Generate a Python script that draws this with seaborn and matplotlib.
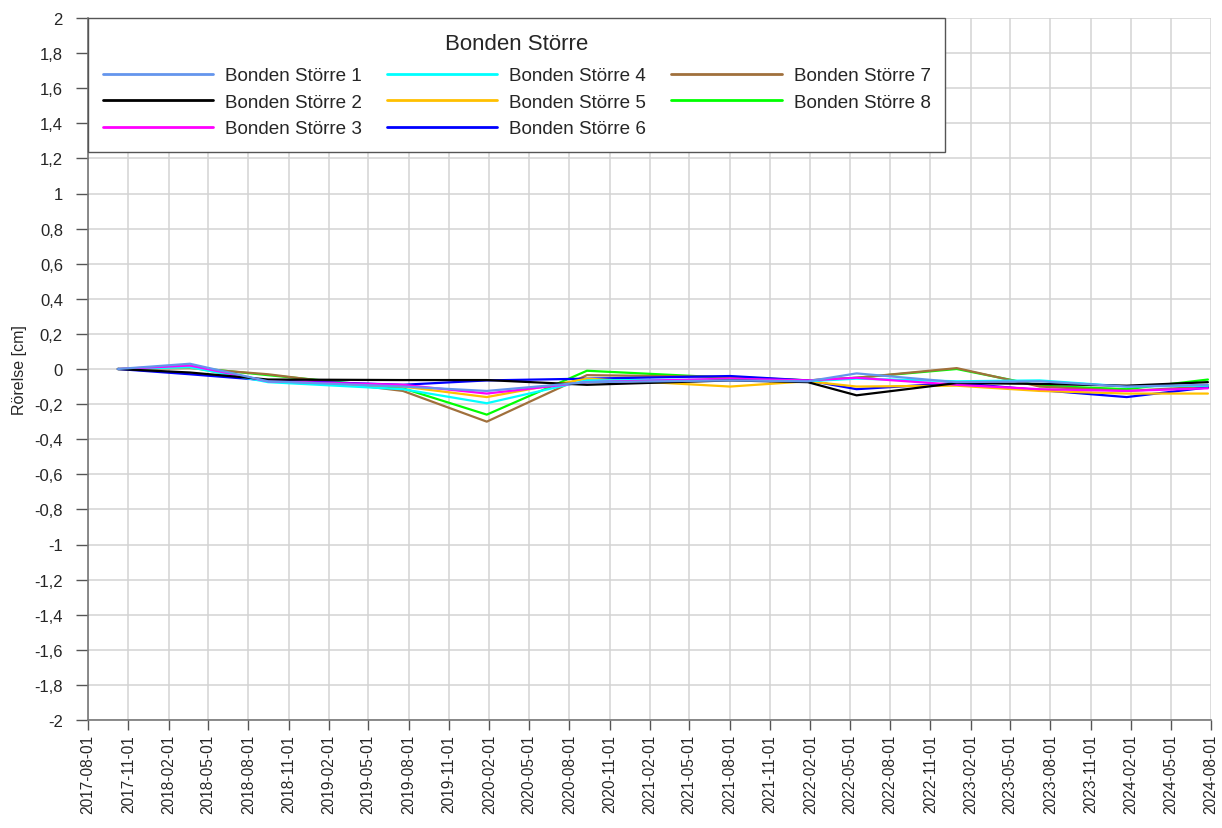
import matplotlib
matplotlib.use("Agg")
import matplotlib.pyplot as plt
import matplotlib.dates as mdates
import numpy as np
import pandas as pd
import seaborn as sns

dates = ["2017-10-08", "2018-03-21", "2018-09-15", "2019-07-19", "2020-01-26",
         "2020-09-10", "2021-08-02", "2022-01-26", "2022-05-17", "2022-12-31",
         "2023-07-08", "2024-01-22", "2024-07-25"]

s1 = [0.0, 0.03, -0.07, -0.10, -0.125, -0.075, -0.065, -0.07, -0.025, -0.075, -0.07, -0.10, -0.09]
s2 = [0.0, -0.02, -0.06, -0.063, -0.063, -0.09, -0.065, -0.075, -0.15, -0.08, -0.085, -0.095, -0.075]
s3 = [0.0, 0.02, -0.07, -0.09, -0.14, -0.075, -0.055, -0.065, -0.05, -0.09, -0.115, -0.125, -0.11]
s4 = [0.0, 0.01, -0.075, -0.115, -0.195, -0.065, -0.06, -0.07, -0.055, -0.07, -0.065, -0.10, -0.095]
s5 = [0.0, 0.01, -0.07, -0.10, -0.16, -0.055, -0.10, -0.07, -0.10, -0.095, -0.125, -0.14, -0.14]
s6 = [0.0, -0.03, -0.065, -0.09, -0.065, -0.055, -0.04, -0.065, -0.115, -0.08, -0.12, -0.16, -0.105]
s7 = [0.0, 0.005, -0.03, -0.125, -0.30, -0.035, -0.045, -0.065, -0.05, 0.005, -0.10, -0.125, -0.10]
s8 = [0.0, 0.01, -0.035, -0.11, -0.26, -0.01, -0.05, -0.065, -0.05, 0.0, -0.095, -0.115, -0.06]

names = [f"Bonden Större {i}" for i in range(1, 9)]
colors = ["#6495ED", "#000000", "#FF00FF", "#00FFFF", "#FFC000", "#0000FF", "#A0703C", "#00FF00"]
series = [s1, s2, s3, s4, s5, s6, s7, s8]

yticks = np.round(np.arange(-2.0, 2.0001, 0.2), 1)
xtick_dates = pd.date_range("2017-08-01", "2024-08-01", freq="3MS")

rows = []
for name, vals in zip(names, series):
    for d, v in zip(dates, vals):
        rows.append({"date": pd.Timestamp(d), "value": v, "series": name})
df = pd.DataFrame(rows)

sns.set_theme(style="white")
plt.rcParams["font.family"] = ["Liberation Sans", "DejaVu Sans"]

W, H = 1222, 829
fig = plt.figure(figsize=(W / 100, H / 100), dpi=100)
ax = fig.add_axes([88 / W, 1 - 721 / H, (1211 - 88) / W, (721 - 19) / H])

sns.lineplot(data=df, x="date", y="value", hue="series", hue_order=names,
             palette=dict(zip(names, colors)), linewidth=1.6, ax=ax, legend=True)

for i, ln in enumerate(ax.get_lines()[:8]):
    ln.set_zorder(10 - i)

ax.set_xlim(mdates.date2num(pd.Timestamp("2017-08-01")), mdates.date2num(pd.Timestamp("2024-08-01")))
ax.set_ylim(-2, 2)
ax.set_xticks(mdates.date2num(xtick_dates))
ax.set_xticklabels([d.strftime("%Y-%m-%d") for d in xtick_dates], rotation=90, fontsize=11.2)
ax.set_yticks(yticks)
ax.set_yticklabels([(f"{v:g}").replace(".", ",") if v != 0 else "0" for v in yticks], fontsize=12)
ax.set_xlabel("")
ax.set_ylabel("Rörelse [cm]", fontsize=11.5)
ax.yaxis.set_label_coords((27 - 88) / (1211 - 88), 0.5)

ax.grid(True, color="#d3d3d3", linewidth=1.1)
ax.set_axisbelow(True)
for side in ["top", "right"]:
    ax.spines[side].set_visible(False)
for side in ["left", "bottom"]:
    ax.spines[side].set_color("#777777")
    ax.spines[side].set_linewidth(1.2)
ax.tick_params(axis="y", which="major", direction="out", length=9, width=1, color="#555555", pad=9, left=True)
ax.tick_params(axis="x", which="major", direction="out", length=7, width=1, color="#555555", pad=3, bottom=True)

leg = ax.get_legend()
handles = leg.legend_handles
labels = [t.get_text() for t in leg.texts]
leg.remove()
for h in handles:
    h.set_linewidth(2)
leg = ax.legend(handles, labels, ncol=3, loc="upper left", bbox_to_anchor=(0, 1),
                bbox_transform=ax.transAxes, borderaxespad=0, frameon=True, fancybox=False,
                title="Bonden Större", title_fontsize=16, fontsize=13.6,
                handlelength=5.85, handletextpad=0.64, columnspacing=1.3,
                labelspacing=0.5, borderpad=0.78)
leg._legend_box.sep = 9.5
leg.get_frame().set_edgecolor("#555555")
leg.get_frame().set_linewidth(1.0)
leg.get_frame().set_alpha(1)
leg.set_zorder(20)

fig.savefig("out.png", dpi=100)
